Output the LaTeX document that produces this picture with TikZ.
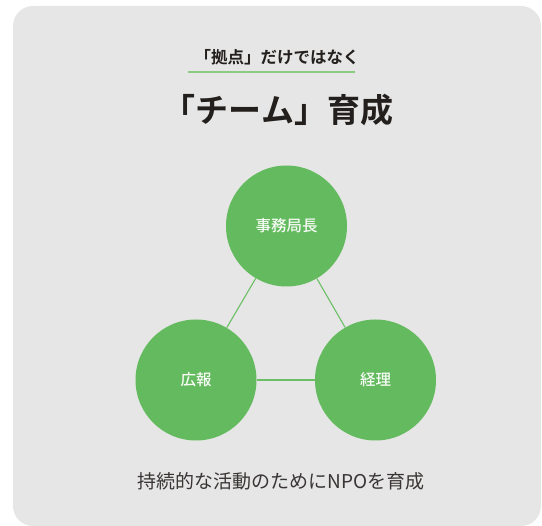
\documentclass[tikz,border=0pt]{standalone}
\usepackage{fontspec}
\newfontfamily\jp{Noto Sans CJK JP}
\newfontfamily\jpm{Noto Sans CJK JP Medium}
\newfontfamily\jpb{Noto Sans CJK JP Bold}
\definecolor{bg}{HTML}{E6E6E6}
\definecolor{cgreen}{HTML}{64BA5E}
\definecolor{lgreen}{HTML}{6BBF64}
\definecolor{ulgreen}{HTML}{8DCB85}
\definecolor{ink}{HTML}{231F1D}
\begin{document}
\begin{tikzpicture}[x=1pt,y=-1pt,
  circ/.style={circle,fill=cgreen,minimum size=121pt,inner sep=0pt,text=white!94!cgreen,font=\jpm\fontsize{15.5}{16}\selectfont},
  link/.style={draw=lgreen,line width=1.1pt}]
\useasboundingbox (0,0) rectangle (542,526);
\fill[bg,rounded corners=20pt] (13,6) rectangle (541,526);
\node[font=\jpb\fontsize{16.5}{18}\selectfont,text=ink] (sub) at (277,57) {「拠点」だけではなく};
\draw[ulgreen,line width=1.5pt] (188,72) coordinate (ula) -- (355,72) coordinate (ulb);
\node[font=\jpb\fontsize{33}{36}\selectfont,text=ink] (title) at (278,110) {「チーム」育成};
\node[circ] (top) at (286.5,226) {事務局長};
\node[circ] (left) at (196,380) {広報};
\node[circ] (right) at (375.5,380) {経理};
\draw[link] (top) -- (left);
\draw[link] (top) -- (right);
\draw[link] (left) -- (right);
\node[font=\jp\fontsize{19}{20}\selectfont,text=ink!90!white] (bottom) at (281,481) {持続的な活動のためにNPOを育成};
\end{tikzpicture}
\end{document}
